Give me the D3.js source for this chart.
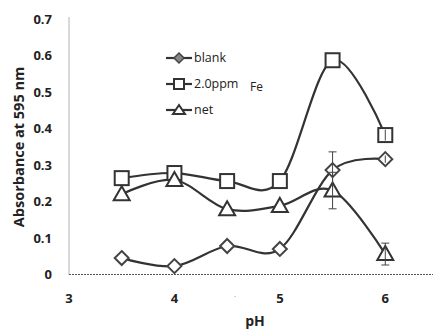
<!DOCTYPE html>
<html><head><meta charset="utf-8">
<script src="https://cdn.jsdelivr.net/npm/d3@7"></script>
<style>body{margin:0;background:#fff}svg{display:block}</style>
</head><body>
<svg id="c" width="433" height="333"></svg>
<script>
const pH = [3.5, 4, 4.5, 5, 5.5, 6];
const blank = [0.045, 0.023, 0.078, 0.070, 0.286, 0.316];
const fe = [0.264, 0.278, 0.256, 0.256, 0.587, 0.382];
const net = [0.220, 0.259, 0.179, 0.188, 0.230, 0.056];
const blankErr = [0, 0, 0, 0, 0.05, 0.01];
const feErr = [0, 0, 0, 0, 0, 0.015];
const netErr = [0, 0, 0, 0, 0.05, 0.03];
const xTicks = [3, 4, 5, 6];
const yTicks = [0, 0.1, 0.2, 0.3, 0.4, 0.5, 0.6, 0.7];
const seriesNames = ["blank", "2.0ppm", "net"];

const svg = d3.select("#c");
const x = d3.scaleLinear().domain([3, 6.5]).range([69, 438]);
const y = d3.scaleLinear().domain([0, 0.7]).range([274.5, 19]);
const font = "'Open Sans', sans-serif";
const col = "#333";

// axes
svg.append("line").attr("x1", x(3)).attr("x2", 433).attr("y1", y(0)).attr("y2", y(0))
  .attr("stroke", "#555").attr("stroke-width", 1).attr("stroke-dasharray", "2,1");
svg.append("line").attr("x1", x(3)).attr("x2", x(3)).attr("y1", y(0)).attr("y2", y(0.7) - 2)
  .attr("stroke", "#666").attr("stroke-width", 1).attr("stroke-dasharray", "1,1");

svg.selectAll(".yt").data(yTicks).enter().append("text")
  .attr("x", 52).attr("y", d => y(d)).attr("dy", "0.35em").attr("text-anchor", "end")
  .attr("font-family", font).attr("font-weight", "bold").attr("font-size", 13).attr("fill", "#222")
  .text(d => d === 0 ? "0" : d3.format(".1f")(d));
svg.selectAll(".xt").data(xTicks).enter().append("text")
  .attr("x", d => x(d)).attr("y", 298).attr("dy", "0.35em").attr("text-anchor", "middle")
  .attr("font-family", font).attr("font-weight", "bold").attr("font-size", 13).attr("fill", "#222")
  .text(d => d);
svg.append("text").attr("x", 234).attr("y", 297).attr("font-size", 8).attr("fill", "#777").text(".");

svg.append("text").attr("transform", "translate(19,147) rotate(-90)").attr("text-anchor", "middle")
  .attr("dy", "0.35em").attr("font-family", font).attr("font-weight", "bold").attr("font-size", 14.5)
  .attr("fill", "#222").text("Absorbance at 595 nm");
svg.append("text").attr("x", 255).attr("y", 326).attr("text-anchor", "middle")
  .attr("font-family", font).attr("font-weight", "bold").attr("font-size", 14).attr("fill", "#222").text("pH");

const line = d3.line().x(d => x(d[0])).y(d => y(d[1])).curve(d3.curveCardinal.tension(0));

function marker(g, type, cx, cy) {
  if (type === 0) {
    g.append("path").attr("d", `M${cx},${cy-7}L${cx+7},${cy}L${cx},${cy+7}L${cx-7},${cy}Z`)
      .attr("fill", "#fff").attr("stroke", "#444").attr("stroke-width", 2);
  } else if (type === 1) {
    g.append("rect").attr("x", cx - 7).attr("y", cy - 7).attr("width", 14).attr("height", 14)
      .attr("fill", "#fff").attr("stroke", "#333").attr("stroke-width", 2);
  } else {
    g.append("path").attr("d", `M${cx},${cy-8}L${cx+8},${cy+6}L${cx-8},${cy+6}Z`)
      .attr("fill", "#fff").attr("stroke", "#333").attr("stroke-width", 2);
  }
}

const series = [[blank, blankErr], [fe, feErr], [net, netErr]];
series.forEach(([vals, errs], i) => {
  const pts = pH.map((p, j) => [p, vals[j]]);
  svg.append("path").datum(pts).attr("d", line).attr("fill", "none")
    .attr("stroke", col).attr("stroke-width", 2.2);
});
series.forEach(([vals, errs], i) => {
  const g = svg.append("g");
  pH.forEach((p, j) => {
    if (errs[j] > 0) {
      const cx = x(p), y1 = y(vals[j] + errs[j]), y2 = y(vals[j] - errs[j]);
      g.append("line").attr("x1", cx - 4).attr("x2", cx + 4).attr("y1", y1).attr("y2", y1).attr("stroke", "#444").attr("stroke-width", 1);
      g.append("line").attr("x1", cx - 4).attr("x2", cx + 4).attr("y1", y2).attr("y2", y2).attr("stroke", "#444").attr("stroke-width", 1);
    }
  });
  pH.forEach((p, j) => marker(g, i, x(p), y(vals[j])));
});
series.forEach(([vals, errs]) => {
  pH.forEach((p, j) => {
    if (errs[j] > 0) {
      const cx = x(p), y1 = y(vals[j] + errs[j]), y2 = y(vals[j] - errs[j]);
      svg.append("line").attr("x1", cx).attr("x2", cx).attr("y1", y1).attr("y2", y2).attr("stroke", "#444").attr("stroke-width", 1);
    }
  });
});

// legend
const ly = [58, 84, 110];
seriesNames.forEach((n, i) => {
  const g = svg.append("g");
  g.append("line").attr("x1", 166).attr("x2", 192).attr("y1", ly[i]).attr("y2", ly[i]).attr("stroke", col).attr("stroke-width", 2.2);
  const cx = 179, cy = ly[i];
  if (i === 0) g.append("path").attr("d", `M${cx},${cy-5}L${cx+5},${cy}L${cx},${cy+5}L${cx-5},${cy}Z`).attr("fill", "#888").attr("stroke", "#444").attr("stroke-width", 1.5);
  else if (i === 1) g.append("rect").attr("x", cx - 5).attr("y", cy - 5).attr("width", 10).attr("height", 10).attr("fill", "#fff").attr("stroke", "#333").attr("stroke-width", 2);
  else g.append("path").attr("d", `M${cx},${cy-5}L${cx+6},${cy+4}L${cx-6},${cy+4}Z`).attr("fill", "#fff").attr("stroke", "#333").attr("stroke-width", 2);
  g.append("text").attr("x", 194).attr("y", cy).attr("dy", "0.35em").attr("font-family", font)
    .attr("font-size", 12.5).attr("fill", "#222").text(n);
});
svg.append("text").attr("x", 250).attr("y", 87).attr("dy", "0.35em").attr("font-family", font)
  .attr("font-size", 12).attr("fill", "#222").text("Fe");
</script>
</body></html>
